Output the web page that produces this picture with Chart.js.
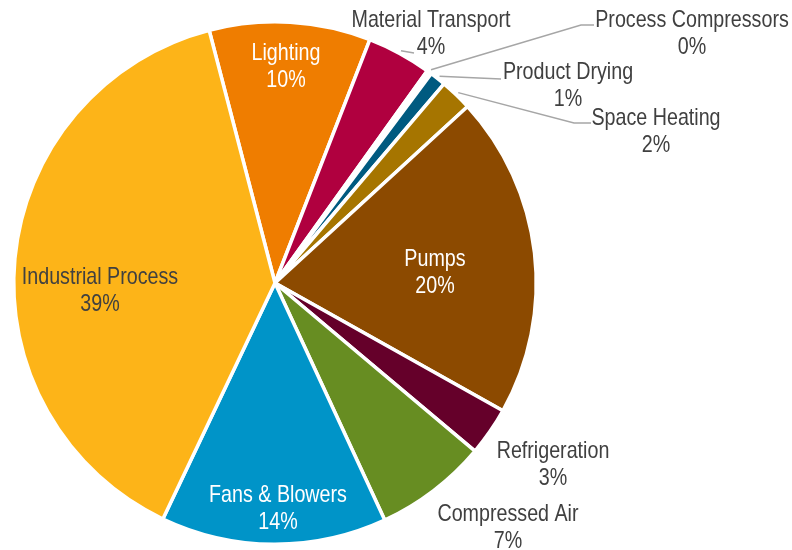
<!DOCTYPE html>
<html>
<head>
<meta charset="utf-8">
<script src="https://cdn.jsdelivr.net/npm/chart.js@4/dist/chart.umd.min.js"></script>
<style>
  html, body { margin: 0; padding: 0; background: #fff; }
  #wrap { width: 792px; height: 550px; position: relative; }
</style>
</head>
<body>
<div id="wrap"><canvas id="useChart"></canvas></div>
<script>
// Energy use by end use (share of total)
const categories = ['Lighting', 'Material Transport', 'Process Compressors', 'Product Drying', 'Space Heating',
                    'Pumps', 'Refrigeration', 'Compressed Air', 'Fans & Blowers', 'Industrial Process'];
const values = [10, 4, 0.3, 1, 2, 20, 3, 7, 14, 39];
const sliceColors = ['#ef7d00', '#b0003f', '#ffffff', '#005a80', '#a67500', '#8c4a00', '#65002a', '#678d22', '#0094c8', '#fdb418'];

// label styling: text colour and block centre relative to pie centre
const textColors = ['#ffffff', '#404040', '#404040', '#404040', '#404040', '#ffffff', '#404040', '#404040', '#ffffff', '#404040'];
const labelPos = [[11, -216], [156, -249], [417, -249], [293, -197], [381, -151],
                  [160, -10], [278, 182], [233, 245], [3, 226], [-175, 8]];
// leader line bends/ends (relative to pie centre), null = no leader
const leaders = [null, [[139, -230]], [[306, -258], [319, -258]], [[226, -204]], [[299, -160], [316, -160]],
                 null, null, null, null, null];

// condensed text: regular sans squeezed horizontally
function drawText(ctx, text, x, y) {
  ctx.save();
  ctx.translate(x, y);
  ctx.scale(0.82, 1);
  ctx.fillText(text, 0, 0);
  ctx.restore();
}

const sliceLabels = {
  id: 'sliceLabels',
  afterDatasetsDraw(chart) {
    const ctx = chart.ctx;
    const meta = chart.getDatasetMeta(0);
    const total = values.reduce((a, b) => a + b, 0);
    ctx.save();
    ctx.font = '24px "Liberation Sans", Arial, sans-serif';
    ctx.textAlign = 'center';
    ctx.textBaseline = 'middle';
    meta.data.forEach((arc, i) => {
      const p = arc.getProps(['x', 'y', 'startAngle', 'endAngle', 'outerRadius'], true);
      const mid = (p.startAngle + p.endAngle) / 2;
      if (leaders[i]) {
        ctx.beginPath();
        ctx.moveTo(p.x + Math.cos(mid) * (p.outerRadius + 3), p.y + Math.sin(mid) * (p.outerRadius + 3));
        leaders[i].forEach(pt => ctx.lineTo(p.x + pt[0], p.y + pt[1]));
        ctx.strokeStyle = '#a6a6a6';
        ctx.lineWidth = 1.5;
        ctx.stroke();
      }
      const pct = Math.round(values[i] / total * 100) + '%';
      const lx = p.x + labelPos[i][0];
      const ly = p.y + labelPos[i][1];
      ctx.fillStyle = textColors[i];
      drawText(ctx, categories[i], lx, ly - 13.5);
      drawText(ctx, pct, lx, ly + 13.5);
    });
    ctx.restore();
  }
};

new Chart(document.getElementById('useChart'), {
  type: 'pie',
  data: {
    labels: categories,
    datasets: [{
      data: values,
      backgroundColor: sliceColors,
      borderColor: '#ffffff',
      borderWidth: 3.5,
      hoverOffset: 0
    }]
  },
  options: {
    responsive: true,
    maintainAspectRatio: false,
    animation: false,
    rotation: -14.6,
    layout: { padding: { left: 12, top: 20, right: 254, bottom: 4 } },
    events: [],
    plugins: {
      legend: { display: false },
      tooltip: { enabled: false }
    }
  },
  plugins: [sliceLabels]
});
</script>
</body>
</html>
